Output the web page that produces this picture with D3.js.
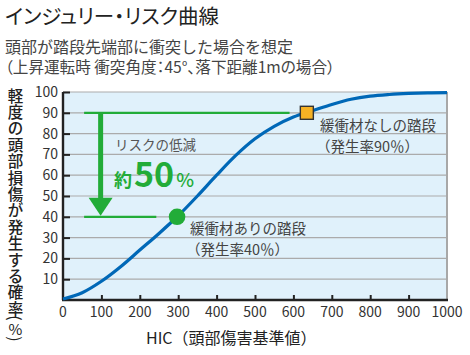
<!DOCTYPE html>
<html lang="ja">
<head>
  <meta charset="UTF-8" />
  <title>インジュリー・リスク曲線</title>
  <script src="https://d3js.org/d3.v7.min.js"></script>
  <style>
    body {
      margin: 0;
      background: #fff;
      font-family: "Noto Sans CJK JP", "Noto Sans", sans-serif;
    }
    svg text { fill: #333; }
    .grid line { stroke: #ababab; stroke-width: 1.2; }
    .palt { font-feature-settings: "palt"; }
  </style>
</head>
<body>
  <svg width="470" height="355"></svg>
  <script>
    // curve: HIC vs probability (%)
    const hic = [0, 50, 100, 150, 200, 250, 300, 350, 400, 450, 500, 550, 600, 650, 700, 750, 800, 850, 900, 950, 1000];
    const prob = [0.5, 3.5, 9, 16, 24, 32, 40.5, 50, 60, 69.5, 77.5, 83.5, 88, 91, 94, 96.5, 98, 98.8, 99.3, 99.6, 99.7];

    // the two highlighted steps
    const without = { hic: 635, p: 90 };
    const withMat = { hic: 297, p: 40 };

    const xTicks = [0, 100, 200, 300, 400, 500, 600, 700, 800, 900, 1000];
    const yTicks = [10, 20, 30, 40, 50, 60, 70, 80, 90, 100];

    const green = "#22ac38";
    const svg = d3.select("svg");

    const x = d3.scaleLinear().domain([0, 1000]).range([63, 447]);
    const y = d3.scaleLinear().domain([0, 100]).range([300, 92]);

    // title block
    svg.append("text").attr("class", "palt").attr("x", 5).attr("y", 24)
      .style("font-size", "20.5px").style("fill", "#222")
      .text("インジュリー・リスク曲線");
    svg.append("text").attr("x", 5).attr("y", 53)
      .style("font-size", "16px").style("fill", "#444")
      .text("頭部が踏段先端部に衝突した場合を想定");
    svg.append("text").attr("class", "palt").attr("x", 5).attr("y", 73)
      .style("font-size", "15.6px").style("fill", "#444")
      .text("（上昇運転時 衝突角度：45°、落下距離1mの場合）");

    // plot background
    svg.append("rect")
      .attr("x", x(0)).attr("y", y(100))
      .attr("width", x(1000) - x(0)).attr("height", y(0) - y(100))
      .attr("fill", "#e0f1fb");

    // horizontal grid
    svg.append("g").attr("class", "grid")
      .selectAll("line").data(yTicks).join("line")
      .attr("x1", x(0)).attr("x2", x(1000))
      .attr("y1", d => y(d)).attr("y2", d => y(d));

    // right border
    svg.append("line")
      .attr("x1", x(1000)).attr("x2", x(1000))
      .attr("y1", y(100)).attr("y2", y(0))
      .attr("stroke", "#a8a8a8").attr("stroke-width", 2);

    // axes with inward ticks
    const yAxis = svg.append("g")
      .attr("transform", `translate(${x(0)},0)`)
      .call(d3.axisRight(y).tickValues(yTicks).tickSize(7).tickFormat(""));
    yAxis.select(".domain").attr("d", `M0,${y(100)}V${y(0)}`).attr("stroke", "#222").attr("stroke-width", 2.4);
    yAxis.selectAll(".tick line").attr("stroke", "#222").attr("stroke-width", 2);

    const xAxis = svg.append("g")
      .attr("transform", `translate(0,${y(0)})`)
      .call(d3.axisTop(x).tickValues(xTicks.slice(1, -1)).tickSize(5).tickFormat(""));
    xAxis.select(".domain").attr("d", `M${x(0) - 1},0H${x(1000) + 1}`).attr("stroke", "#222").attr("stroke-width", 2.4);
    xAxis.selectAll(".tick line").attr("stroke", "#222").attr("stroke-width", 2);

    // tick labels
    svg.append("g").selectAll("text").data(yTicks).join("text")
      .attr("x", 58).attr("y", d => y(d) + 5)
      .attr("text-anchor", "end")
      .style("font-size", "14px")
      .text(d => d);
    svg.append("g").selectAll("text").data(xTicks).join("text")
      .attr("x", d => x(d)).attr("y", 317)
      .attr("text-anchor", "middle")
      .style("font-size", "14px")
      .text(d => d);

    // axis titles
    svg.append("text").attr("x", 146).attr("y", 344)
      .style("font-size", "16px").style("fill", "#222")
      .text("HIC（頭部傷害基準値）");

    // vertical y title, one glyph per slot; brackets turned a quarter
    const yTitle = "軽度の頭部損傷が発生する確率".split("");
    const yTitleEnd = ["(", "%", ")"];
    const yg = svg.append("g")
      .style("font-size", "15.5px").style("font-weight", "500");
    yg.selectAll("text.c").data(yTitle).join("text").attr("class", "c")
      .attr("x", 15.5).attr("y", (d, i) => 94.5 + i * 16.4)
      .attr("text-anchor", "middle").attr("dominant-baseline", "central")
      .style("fill", "#222")
      .text(d => d);
    yg.selectAll("text.p").data(yTitleEnd).join("text").attr("class", "p")
      .attr("transform", (d, i) => `translate(15.5,${318 + i * 10.5})` + (d === "%" ? "" : " rotate(90)"))
      .attr("text-anchor", "middle").attr("dominant-baseline", "central")
      .style("fill", "#222")
      .style("font-size", (d) => d === "%" ? "15px" : "16px")
      .style("font-weight", "400")
      .text(d => d);

    // green reference lines and arrow
    svg.append("line")
      .attr("x1", x(55)).attr("x2", x(590))
      .attr("y1", y(without.p)).attr("y2", y(without.p))
      .attr("stroke", green).attr("stroke-width", 2.2);
    svg.append("line")
      .attr("x1", x(55)).attr("x2", x(243))
      .attr("y1", y(withMat.p)).attr("y2", y(withMat.p))
      .attr("stroke", green).attr("stroke-width", 2.2);

    const ax = x(98);
    svg.append("line")
      .attr("x1", ax).attr("x2", ax)
      .attr("y1", y(without.p)).attr("y2", y(withMat.p) - 18)
      .attr("stroke", green).attr("stroke-width", 5);
    svg.append("path")
      .attr("d", `M${ax - 12},${y(withMat.p) - 19}L${ax + 12},${y(withMat.p) - 19}L${ax},${y(withMat.p) - 1}Z`)
      .attr("fill", green);

    svg.append("text").attr("x", 115).attr("y", 150)
      .style("font-size", "13.5px").style("fill", "#555")
      .text("リスクの低減");
    const big = svg.append("text").attr("x", 114).attr("y", 187)
      .style("font-weight", "bold");
    big.append("tspan").style("font-size", "18px").style("fill", green).text("約");
    big.append("tspan").style("font-size", "34px").style("fill", green).attr("dx", 2).text("50");
    big.append("tspan").style("font-size", "19px").style("fill", green).style("font-weight", "500").attr("dx", 2).text("%");

    // curve
    const pts = hic.map((h, i) => [h, prob[i]]);
    svg.append("path")
      .datum(pts)
      .attr("fill", "none")
      .attr("stroke", "#0068b7")
      .attr("stroke-width", 3.2)
      .attr("d", d3.line().x(d => x(d[0])).y(d => y(d[1])).curve(d3.curveMonotoneX));

    // markers
    svg.append("circle")
      .attr("cx", x(withMat.hic)).attr("cy", y(withMat.p))
      .attr("r", 8.3).attr("fill", green);
    svg.append("rect")
      .attr("x", x(without.hic) - 6.5).attr("y", y(without.p) - 6.5)
      .attr("width", 13).attr("height", 13)
      .attr("fill", "#f6b224").attr("stroke", "#333").attr("stroke-width", 1.4);

    // marker labels
    svg.append("text").attr("x", 320).attr("y", 131)
      .style("font-size", "14.5px").style("fill", "#444")
      .text("緩衝材なしの踏段");
    svg.append("text").attr("x", 316).attr("y", 152)
      .style("font-size", "14.5px").style("fill", "#444")
      .text("（発生率90％）");
    svg.append("text").attr("x", 190).attr("y", 234)
      .style("font-size", "14.5px").style("fill", "#444")
      .text("緩衝材ありの踏段");
    svg.append("text").attr("x", 186).attr("y", 255)
      .style("font-size", "14.5px").style("fill", "#444")
      .text("（発生率40％）");
  </script>
</body>
</html>
